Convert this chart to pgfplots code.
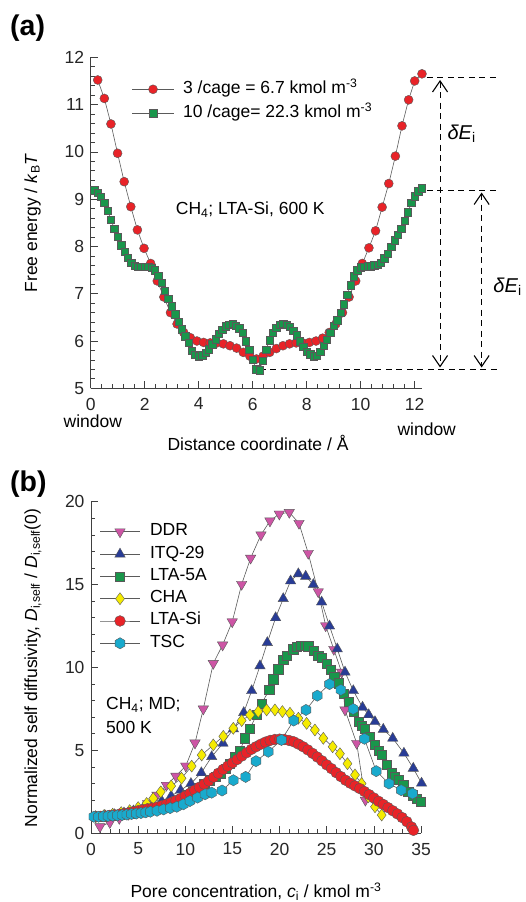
\documentclass[border=0pt]{standalone}
\usepackage{fontspec}
\setmainfont{Liberation Sans}
\usepackage{pgfplots}
\pgfplotsset{compat=1.18}
\usetikzlibrary{arrows.meta}
\definecolor{redA}{RGB}{232,35,40}
\definecolor{greenA}{RGB}{25,150,75}
\definecolor{pinkB}{RGB}{205,85,165}
\definecolor{blueB}{RGB}{40,60,150}
\definecolor{yellowB}{RGB}{245,235,0}
\definecolor{cyanB}{RGB}{25,170,205}
\definecolor{linegray}{RGB}{90,90,90}
\newcommand{\fs}{\fontsize{17.5}{21}\selectfont}
\pgfdeclareplotmark{hexagon*}{%
  \pgfpathmoveto{\pgfpointpolar{90}{\pgfplotmarksize}}%
  \pgfpathlineto{\pgfpointpolar{150}{\pgfplotmarksize}}%
  \pgfpathlineto{\pgfpointpolar{210}{\pgfplotmarksize}}%
  \pgfpathlineto{\pgfpointpolar{270}{\pgfplotmarksize}}%
  \pgfpathlineto{\pgfpointpolar{330}{\pgfplotmarksize}}%
  \pgfpathlineto{\pgfpointpolar{30}{\pgfplotmarksize}}%
  \pgfpathclose
  \pgfusepathqfillstroke}
\pgfplotsset{
  myaxis/.style={
    scale only axis, anchor=south west,
    axis lines=left, axis line style={-, line width=0.8pt, draw=black!75},
    tick align=inside, major tick length=7pt, minor tick length=4pt,
    tick style={line width=0.7pt, draw=black!75},
    ticklabel style={font=\fs, text=black!85},
    /pgf/number format/assume math mode=true,
    xticklabel style={yshift=-6pt}, yticklabel style={xshift=-3pt},
    clip=false,
    legend cell align=left,
  },
}
\begin{document}
\begin{tikzpicture}
\useasboundingbox (0pt,0pt) rectangle (525pt,902pt);
% ---------------- panel (a)
\begin{axis}[myaxis,
  at={(90.7pt,513.7pt)}, width=331pt, height=331pt,
  xmin=0, xmax=12.26, ymin=5, ymax=12,
  xtick={0,2,4,6,8,10,12}, ytick={5,6,7,8,9,10,11,12},
  minor x tick num=4, minor y tick num=4,
  legend image code/.code={\draw[mark repeat=2,mark phase=2,#1] plot coordinates {(0pt,0pt) (20.8pt,0pt) (41.6pt,0pt)};},
  legend style={draw=none, fill=none, font=\fs, inner sep=0pt, row sep=6pt, column sep=8pt,
    at={(0.124,0.867)}, anchor=west, nodes={inner sep=1pt, text height=12pt, text depth=4pt}},
]
\addplot[line width=0.6pt, linegray, mark=*, mark size=4.5pt, mark options={fill=redA, draw=black!65, line width=0.4pt}] coordinates {
(0.26,11.52) (0.505,11.13) (0.75,10.59) (0.995,9.97) (1.24,9.37) (1.485,8.84) (1.73,8.35) (1.975,7.96) (2.22,7.64) (2.465,7.27) (2.71,6.93) (2.955,6.6) (3.2,6.36) (3.445,6.18) (3.69,6.07) (3.935,6.0) (4.18,5.97) (4.425,5.96) (4.67,5.96) (4.915,5.94) (5.16,5.9) (5.405,5.85) (5.65,5.76) (5.895,5.68) (6.14,5.62) (6.385,5.68) (6.63,5.76) (6.875,5.84) (7.12,5.9) (7.365,5.94) (7.61,5.96) (7.855,5.96) (8.1,5.97) (8.345,6.0) (8.59,6.06) (8.835,6.18) (9.08,6.36) (9.325,6.6) (9.57,6.93) (9.815,7.27) (10.06,7.64) (10.305,7.97) (10.55,8.33) (10.795,8.83) (11.04,9.33) (11.285,9.91) (11.53,10.55) (11.775,11.1) (12.0,11.5) (12.27,11.65)
};
\addlegendentry{3 /cage = 6.7 kmol m\textsuperscript{-3}}
\addplot[line width=0.6pt, linegray, mark=square*, mark size=3.7pt, mark options={fill=greenA, draw=black!65, line width=0.4pt}] coordinates {
(0.13,9.19) (0.25,9.14) (0.375,9.05) (0.5,8.93) (0.625,8.76) (0.75,8.56) (0.875,8.38) (1.0,8.2) (1.125,8.03) (1.25,7.89) (1.375,7.76) (1.5,7.66) (1.625,7.59) (1.75,7.57) (1.875,7.57) (2.0,7.57) (2.125,7.57) (2.25,7.55) (2.375,7.5) (2.5,7.38) (2.625,7.23) (2.75,7.07) (2.875,6.9) (3.0,6.74) (3.125,6.57) (3.25,6.41) (3.375,6.25) (3.5,6.1) (3.625,5.96) (3.75,5.8) (3.875,5.71) (4.0,5.68) (4.125,5.7) (4.25,5.75) (4.375,5.83) (4.5,5.93) (4.625,6.04) (4.75,6.15) (4.875,6.24) (5.0,6.31) (5.125,6.35) (5.25,6.36) (5.375,6.33) (5.5,6.27) (5.625,6.17) (5.75,6.0) (5.875,5.82) (6.0,5.6) (6.125,5.4) (6.25,5.38) (6.375,5.58) (6.5,5.82) (6.625,6.02) (6.75,6.17) (6.875,6.28) (7.0,6.34) (7.125,6.36) (7.25,6.35) (7.375,6.3) (7.5,6.22) (7.625,6.12) (7.75,6.0) (7.875,5.88) (8.0,5.78) (8.125,5.72) (8.25,5.68) (8.375,5.69) (8.5,5.77) (8.625,5.9) (8.75,6.03) (8.875,6.18) (9.0,6.33) (9.125,6.44) (9.25,6.6) (9.375,6.78) (9.5,6.98) (9.625,7.18) (9.75,7.37) (9.875,7.5) (10.0,7.56) (10.125,7.57) (10.25,7.58) (10.375,7.58) (10.5,7.6) (10.625,7.62) (10.75,7.66) (10.875,7.75) (11.0,7.85) (11.125,8.0) (11.25,8.13) (11.375,8.25) (11.5,8.37) (11.625,8.55) (11.75,8.72) (11.875,8.92) (12.0,9.06) (12.125,9.17) (12.26,9.23)
};
\addlegendentry{10 /cage= 22.3 kmol m\textsuperscript{-3}}
% annotations
\draw[line width=1.1pt, dash pattern=on 6pt off 4.5pt] (axis cs:12.45,11.57) -- (axis cs:15.16,11.57);
\draw[line width=1.1pt, dash pattern=on 6pt off 4.5pt] (axis cs:12.45,9.19) -- (axis cs:15.16,9.19);
\draw[line width=1.1pt, dash pattern=on 6pt off 4.5pt] (axis cs:6.27,5.39) -- (axis cs:15.16,5.39);
\draw[line width=1.1pt, dash pattern=on 6pt off 4.5pt, {Straight Barb[length=11pt,width=15pt]}-{Straight Barb[length=11pt,width=15pt]}] (axis cs:12.94,11.52) -- (axis cs:12.94,5.44);
\draw[line width=1.1pt, dash pattern=on 6pt off 4.5pt, {Straight Barb[length=11pt,width=15pt]}-{Straight Barb[length=11pt,width=15pt]}] (axis cs:14.48,9.14) -- (axis cs:14.48,5.44);
\end{axis}
% ---------------- panel (b)
\begin{axis}[myaxis,
  at={(91pt,68.7pt)}, width=330pt, height=331.6pt,
  xmin=0, xmax=35, ymin=0, ymax=20,
  xtick={0,5,...,35}, ytick={0,5,10,15,20},
  minor x tick num=4, minor y tick num=4,
  legend image code/.code={\draw[mark repeat=2,mark phase=2,#1] plot coordinates {(0pt,0pt) (19.6pt,0pt) (39.3pt,0pt)};},
  legend style={draw=none, fill=none, font=\fs, inner sep=0pt, row sep=4.3pt, column sep=9pt,
    at={(0.027,0.937)}, anchor=north west, nodes={inner sep=1pt, text height=12pt, text depth=4pt}},
]
\addplot[line width=0.6pt, linegray, mark=triangle*, mark size=6pt, mark options={fill=pinkB, draw=black!65, line width=0.4pt, rotate=180}] coordinates {
(0.95,0.4) (2.0,0.65) (3.0,0.9) (4.0,1.15) (5.0,1.45) (6.0,1.8) (7.0,2.3) (8.0,2.9) (9.0,3.45) (10.05,4.06) (11.03,5.45) (11.91,7.5) (12.97,10.25) (13.96,11.36) (14.98,12.76) (15.98,15.02) (16.93,16.6) (18.03,18.0) (18.98,18.84) (19.97,19.26) (21.03,19.36) (22.06,18.7) (23.04,16.89) (24.1,14.57) (24.89,12.52) (25.75,11.1) (26.58,9.72) (26.94,7.44) (28.18,5.43) (29.1,2.0)
};
\addlegendentry{DDR}
\addplot[line width=0.6pt, linegray, mark=triangle*, mark size=6pt, mark options={fill=blueB, draw=black!65, line width=0.4pt}] coordinates {
(0.5,1.0) (1.5,1.05) (2.5,1.12) (3.5,1.22) (4.5,1.35) (5.5,1.5) (6.5,1.7) (7.5,1.95) (8.5,2.25) (9.5,2.6) (10.6,3.0) (11.7,3.65) (12.8,4.62) (14.0,5.43) (15.1,6.3) (16.2,7.28) (17.04,8.6) (17.92,10.1) (18.7,11.5) (19.58,13.0) (20.39,14.15) (21.17,15.22) (21.99,15.65) (22.77,15.5) (23.58,15.0) (24.46,13.95) (25.3,12.5) (26.12,11.12) (26.94,9.72) (27.82,8.6) (28.8,7.6) (29.45,7.15) (30.12,6.73) (31.0,6.27) (32.0,5.73) (33.19,4.83) (34.18,3.92) (35.06,3.02)
};
\addlegendentry{ITQ-29}
\addplot[line width=0.6pt, linegray, mark=square*, mark size=4.6pt, mark options={fill=greenA, draw=black!65, line width=0.4pt}] coordinates {
(0.5,1.0) (1.2,1.02) (1.8,1.05) (2.4,1.08) (3.0,1.12) (3.6,1.16) (4.2,1.2) (4.8,1.25) (5.4,1.3) (6.0,1.37) (6.6,1.45) (7.2,1.54) (7.8,1.65) (8.4,1.78) (9.0,1.93) (9.6,2.1) (10.2,2.3) (10.8,2.52) (11.4,2.76) (12.0,3.0) (12.6,3.2) (13.2,3.4) (13.7,3.6) (14.3,3.9) (14.74,4.18) (15.3,4.6) (15.8,5.0) (16.33,5.73) (16.86,6.33) (17.57,7.14) (18.1,7.84) (18.91,8.64) (19.33,9.3) (19.86,9.9) (20.39,10.45) (20.75,10.7) (21.45,11.1) (21.85,11.25) (22.24,11.3) (22.65,11.3) (23.04,11.28) (23.58,11.0) (24.1,10.7) (24.5,10.6) (24.99,10.25) (25.4,9.85) (25.8,9.45) (26.23,9.05) (26.76,8.44) (27.29,7.94) (27.82,7.33) (28.35,6.73) (28.75,6.5) (29.06,6.33) (29.59,5.83) (30.12,5.33) (30.5,5.0) (30.83,4.72) (31.36,4.12) (31.89,3.62) (32.25,3.4) (32.6,3.21) (33.12,2.91) (33.65,2.51) (34.1,2.3) (34.54,2.11) (34.96,1.9)
};
\addlegendentry{LTA-5A}
\addplot[line width=0.6pt, linegray, mark=diamond*, mark size=6pt, mark options={fill=yellowB, draw=black!65, line width=0.4pt}] coordinates {
(0.5,1.0) (1.4,1.08) (2.3,1.15) (3.2,1.25) (4.1,1.37) (5.0,1.55) (5.9,1.8) (6.6,2.1) (7.4,2.5) (8.5,2.85) (9.6,3.32) (10.68,4.05) (11.74,4.72) (12.97,5.33) (14.03,5.85) (15.09,6.33) (15.98,6.8) (16.86,7.14) (17.74,7.34) (18.63,7.44) (19.51,7.44) (20.3,7.34) (21.1,7.24) (21.99,6.94) (22.87,6.63) (23.75,6.23) (24.64,5.73) (25.63,5.22) (26.4,4.8) (27.2,4.2) (28.0,3.52) (28.7,3.0) (29.4,2.2) (30.12,1.6) (30.83,1.1)
};
\addlegendentry{CHA}
\addplot[line width=0.6pt, linegray, mark=*, mark size=5.4pt, mark options={fill=redA, draw=black!65, line width=0.4pt}] coordinates {
(0.5,1.0) (1,1.02) (1.5,1.05) (2,1.08) (2.5,1.11) (3,1.15) (3.5,1.19) (4,1.24) (4.5,1.3) (5,1.36) (5.5,1.42) (6,1.48) (6.5,1.52) (7,1.58) (7.5,1.66) (8,1.75) (8.5,1.86) (9,1.97) (9.5,2.1) (10,2.25) (10.5,2.42) (11,2.6) (11.5,2.78) (12,2.97) (12.5,3.16) (13,3.38) (13.5,3.62) (14,3.85) (14.5,4.05) (15,4.25) (15.5,4.45) (16,4.66) (16.5,4.86) (17,5.06) (17.5,5.22) (18,5.37) (18.5,5.5) (19,5.6) (19.5,5.66) (20,5.68) (20.5,5.66) (21,5.6) (21.5,5.52) (22,5.38) (22.5,5.22) (23,5.03) (23.5,4.82) (24,4.6) (24.5,4.37) (25,4.13) (25.5,3.9) (26,3.66) (26.5,3.42) (27,3.2) (27.5,3.02) (28,2.86) (28.5,2.7) (29,2.52) (29.5,2.33) (30,2.13) (30.5,1.93) (31,1.74) (31.5,1.55) (32,1.36) (32.5,1.17) (33,0.95) (33.5,0.7) (34,0.38) (34.2,0.18)
};
\addlegendentry{LTA-Si}
\addplot[line width=0.6pt, linegray, mark=hexagon*, mark size=5.6pt, mark options={fill=cyanB, draw=black!65, line width=0.4pt}] coordinates {
(0.3,1.0) (0.8,1.0) (1.3,1.02) (1.8,1.04) (2.3,1.06) (2.8,1.08) (3.3,1.1) (3.8,1.13) (4.3,1.16) (4.8,1.19) (5.3,1.22) (5.8,1.26) (6.3,1.3) (7.0,1.36) (7.7,1.44) (8.4,1.52) (9.1,1.6) (9.8,1.75) (10.5,1.95) (11.3,2.15) (12.1,2.35) (12.8,2.45) (13.9,2.58) (15.1,3.2) (16.4,3.4) (17.5,4.35) (18.8,4.92) (20.2,5.63) (21.5,6.8) (22.8,7.44) (24.0,8.3) (25.3,9.0) (26.5,8.65) (27.8,7.5) (29.0,5.7) (30.25,3.75) (31.6,3.0) (32.9,2.6) (34.1,2.4)
};
\addlegendentry{TSC}
\end{axis}
% ---------------- texts
\node[font=\fontsize{28.5}{30}\selectfont\bfseries, anchor=base west, inner sep=0pt] at (10pt,866pt) {(a)};
\node[font=\fontsize{28.5}{30}\selectfont\bfseries, anchor=base west, inner sep=0pt] at (10pt,410.3pt) {(b)};
\node[font=\fs, rotate=90, anchor=base, inner sep=0pt] at (37pt,679pt) {Free energy / \textit{k}\textsubscript{B}\textit{T}};
\node[font=\fs, anchor=base, inner sep=0pt] at (258pt,451.5pt) {Distance coordinate / Å};
\node[font=\fs, anchor=base, inner sep=0pt] at (92.8pt,474pt) {window};
\node[font=\fs, anchor=base, inner sep=0pt] at (426.7pt,466pt) {window};
\node[font=\fs, anchor=base west, inner sep=0pt] at (175.7pt,687pt) {CH\textsubscript{4}; LTA-Si, 600 K};
\node[font=\fontsize{20}{24}\selectfont, anchor=center, inner sep=0pt] at (461.7pt,768pt) {\textit{δE}\textsubscript{i}};
\node[font=\fontsize{20}{24}\selectfont, anchor=center, inner sep=0pt] at (507.5pt,615pt) {\textit{δE}\textsubscript{i}};
\node[font=\fs, rotate=90, anchor=base, inner sep=0pt] at (37pt,234pt) {Normalized self diffusivity, \textit{D}\textsubscript{i,self} / \textit{D}\textsubscript{i,self}(0)};
\node[font=\fs, anchor=base, inner sep=0pt] at (256pt,4.5pt) {Pore concentration, \textit{c}\textsubscript{i} / kmol m\textsuperscript{-3}};
\node[font=\fs, anchor=base west, inner sep=0pt] at (106pt,192pt) {CH\textsubscript{4}; MD;};
\node[font=\fs, anchor=base west, inner sep=0pt] at (106pt,168pt) {500 K};
\end{tikzpicture}
\end{document}
